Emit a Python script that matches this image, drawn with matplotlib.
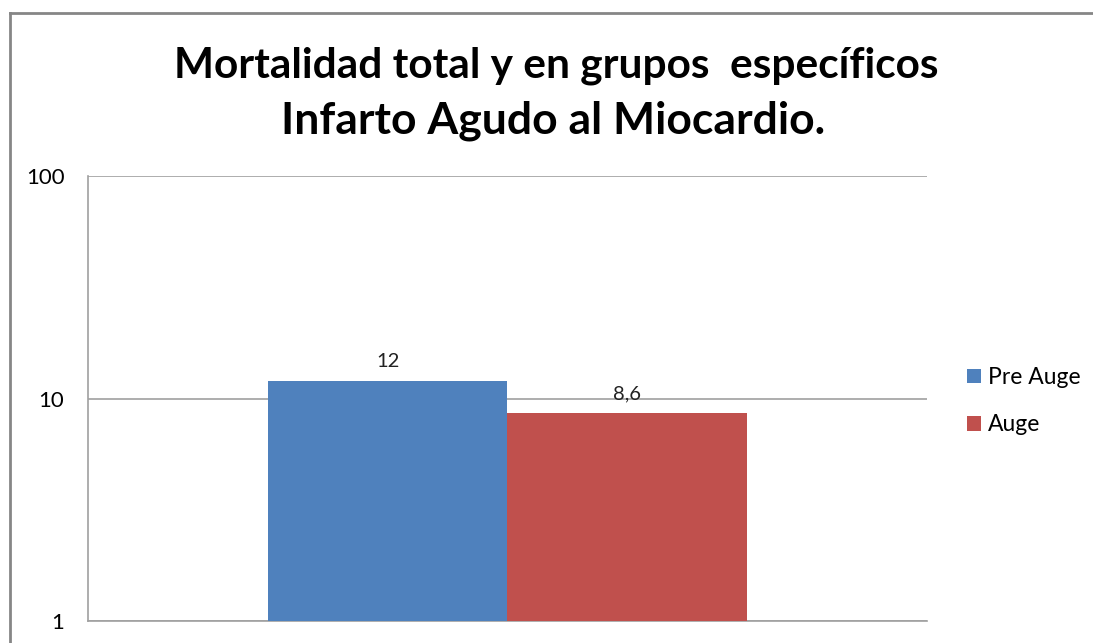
import matplotlib.pyplot as plt
from matplotlib.lines import Line2D

series = ['Pre Auge', 'Auge']
values = [12, 8.6]
labels = ['12', '8,6']
colors = ['#4F81BD', '#C0504D']
title_lines = ['Mortalidad total y en grupos  específicos', 'Infarto Agudo al Miocardio.']

plt.rcParams['font.family'] = ['Lato', 'DejaVu Sans']


def main():
    fig = plt.figure(figsize=(10.93, 6.43), dpi=100)
    ax = fig.add_axes([0.0805, 0.034, 0.7675, 0.692])

    width = 0.285
    offsets = [-width / 2, width / 2]
    handles = []
    for name, v, lab, c, off in zip(series, values, labels, colors, offsets):
        b = ax.bar(off, v - 1, bottom=1, width=width, color=c, label=name, zorder=3)
        handles.append(b)
        ax.text(off, v * 1.12, lab, ha='center', va='bottom', fontsize=14.5, color='#222222')

    ax.set_yscale('log')
    ax.set_ylim(1, 100)
    ax.set_xlim(-0.5, 0.5)
    ax.set_yticks([1, 10, 100])
    ax.set_yticklabels(['1', '10', '100'])
    ax.minorticks_off()
    ax.set_xticks([])
    ax.tick_params(axis='y', length=0, labelsize=16, pad=17)
    ax.yaxis.grid(True, color='#a0a0a0', lw=1.2, zorder=0)

    for s in ['top', 'right']:
        ax.spines[s].set_visible(False)
    for s in ['left', 'bottom']:
        ax.spines[s].set_color('#a0a0a0')
        ax.spines[s].set_linewidth(1.2)

    fig.text(0.509, 0.898, title_lines[0], ha='center', va='center',
             fontsize=30.5, fontweight='bold')
    fig.text(0.506, 0.812, title_lines[1], ha='center', va='center',
             fontsize=32, fontweight='bold')

    fig.legend(handles=handles, loc='center left', bbox_to_anchor=(0.866, 0.376),
               frameon=False, fontsize=16.5, handlelength=0.6, handleheight=0.6,
               handletextpad=0.3, labelspacing=1.15)

    # outer chart border (only top and left visible)
    x0, y0 = 9.5 / 1093, 1 - 12.5 / 643
    fig.lines.append(Line2D([x0, x0], [0, y0], transform=fig.transFigure,
                            color='#868686', lw=2))
    fig.lines.append(Line2D([x0, 1], [y0, y0], transform=fig.transFigure,
                            color='#868686', lw=2))

    fig.savefig('out.png', dpi=100)


if __name__ == '__main__':
    main()
